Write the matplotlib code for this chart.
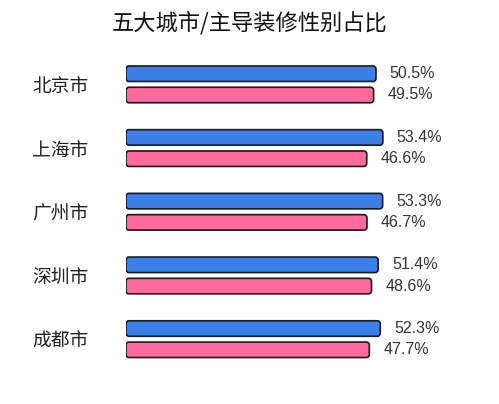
import matplotlib
matplotlib.use('Agg')
import matplotlib.pyplot as plt
from matplotlib.patches import FancyBboxPatch

# data
cities = ['北京市', '上海市', '广州市', '深圳市', '成都市']
male_share = [50.5, 53.4, 53.3, 51.4, 52.3]
female_share = [49.5, 46.6, 46.7, 48.6, 47.7]
title = '五大城市/主导装修性别占比'

plt.rcParams['font.family'] = ['Noto Sans CJK SC', 'DejaVu Sans']

blue = '#3b7fe9'
pink = '#ff6a9c'
edge = '#1a1a1a'

# the original bars all start from the same left edge, not from zero
base = -55
xmax = 94.4

fig = plt.figure(figsize=(4.99, 4.04), dpi=100)
ax = fig.add_axes([126 / 499, 1 - 371 / 404, 354 / 499, (371 - 52.5) / 404])
ax.set_xlim(base, xmax)
ax.set_ylim(len(cities) - 0.5, -0.5)

off = 0.167
h = 0.243
ypos = list(range(len(cities)))

bars_m = ax.barh([y - off for y in ypos], [v - base for v in male_share], left=base,
                 height=h, color=blue)
bars_f = ax.barh([y + off for y in ypos], [v - base for v in female_share], left=base,
                 height=h, color=pink)

# swap plain rectangles for slightly rounded ones
fig.canvas.draw()
bb = ax.get_window_extent()
px_x = bb.width / (xmax - base)
px_y = bb.height / len(cities)
asp = px_x / px_y
for bars, col in [(bars_m, blue), (bars_f, pink)]:
    for b in bars:
        x, y = b.get_xy()
        w, hh = b.get_width(), b.get_height()
        b.remove()
        ax.add_patch(FancyBboxPatch((x, y), w, hh,
                                    boxstyle='round,pad=0,rounding_size=%.3f' % (3 / px_x),
                                    mutation_aspect=asp, fc=col, ec=edge, lw=1.2))

for i in ypos:
    for v, dy in [(male_share[i], -off), (female_share[i], off)]:
        ax.annotate(f'{v}%', xy=(v, i + dy), xytext=(10, 0), textcoords='offset points',
                    va='center', ha='left', fontsize=11.5, color='#333333',
                    family=['Liberation Sans', 'DejaVu Sans'])

ax.set_yticks(ypos)
ax.set_yticklabels(cities, fontsize=13.5, color='#222222', weight='light')
ax.tick_params(axis='y', length=0, pad=27)
ax.set_xticks([])
for s in ax.spines.values():
    s.set_visible(False)

fig.text(0.5, 1 - 23 / 404, title, ha='center', va='center', fontsize=16,
         weight='medium', color='#111111')

fig.savefig('out.png', dpi=100)
